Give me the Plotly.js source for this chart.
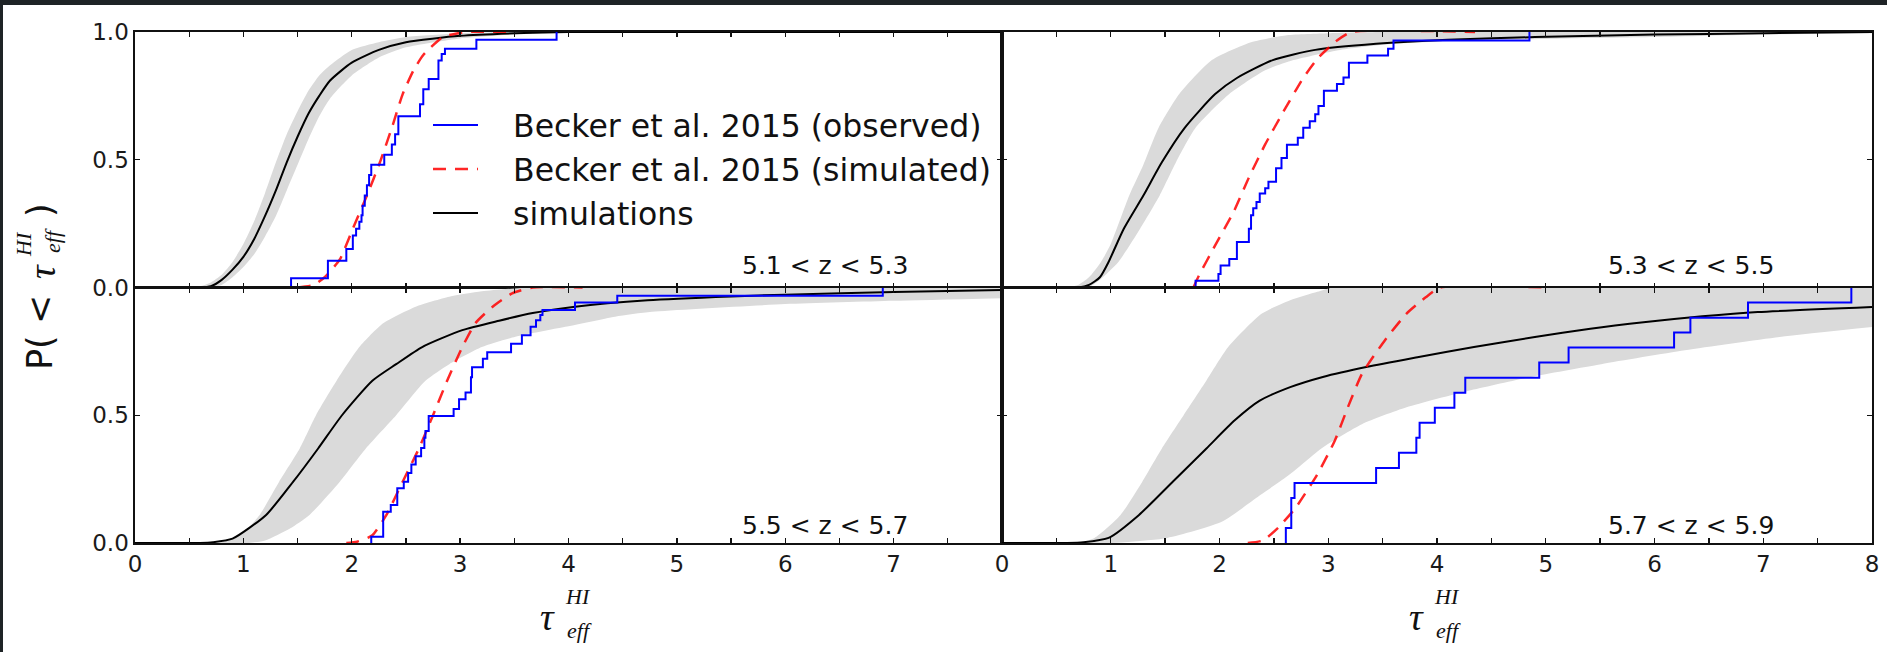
<!DOCTYPE html>
<html><head><meta charset="utf-8">
<script src="https://cdn.plot.ly/plotly-3.0.1.min.js"></script>
<style>
html,body{margin:0;padding:0;background:#1e2326;width:1887px;height:652px;overflow:hidden;}
#plot{position:absolute;left:3px;top:5px;width:1884px;height:647px;background:#fff;}
</style></head><body><div id="plot"></div>
<script>
// ---------- DATA ----------
const panelLabels = ['5.1 &lt; z &lt; 5.3', '5.3 &lt; z &lt; 5.5', '5.5 &lt; z &lt; 5.7', '5.7 &lt; z &lt; 5.9'];
const seriesNames = ['Becker et al. 2015 (observed)', 'Becker et al. 2015 (simulated)', 'simulations'];

// Panel A: 5.1 < z < 5.3
const simTauA = [0, 0.6, 0.7, 0.8, 0.9, 1.0, 1.1, 1.2, 1.3, 1.4, 1.5, 1.6, 1.7, 1.8, 2.0, 2.25, 2.5, 3.0, 3.5, 4.0, 5.0, 6, 7, 8];
const simPA   = [0, 0, 0.005, 0.03, 0.07, 0.12, 0.19, 0.28, 0.38, 0.49, 0.59, 0.68, 0.75, 0.81, 0.88, 0.93, 0.96, 0.985, 0.995, 1, 1, 1, 1, 1];
const bandHiTauA = [0.5, 0.6, 0.7, 0.8, 0.9, 1.0, 1.1, 1.2, 1.3, 1.4, 1.5, 1.6, 1.7, 1.8, 2.0, 2.25, 2.5, 3.0, 3.5, 4.0, 8];
const bandHiA    = [0, 0.005, 0.02, 0.05, 0.1, 0.17, 0.26, 0.37, 0.49, 0.6, 0.69, 0.77, 0.83, 0.87, 0.93, 0.96, 0.98, 0.995, 1, 1, 1];
const bandLoTauA = [0.7, 0.8, 0.9, 1.0, 1.1, 1.2, 1.3, 1.4, 1.5, 1.6, 1.7, 1.8, 2.0, 2.25, 2.5, 3.0, 3.5, 4.0, 5.0, 8];
const bandLoA    = [0, 0.01, 0.04, 0.08, 0.13, 0.2, 0.28, 0.38, 0.48, 0.58, 0.67, 0.74, 0.83, 0.9, 0.94, 0.975, 0.99, 0.997, 1, 1];
const bkSimTauA = [1.5, 1.65, 1.75, 1.89, 2.01, 2.14, 2.26, 2.37, 2.47, 2.57, 2.66, 2.84, 3.05, 3.5];
const bkSimPA   = [0, 0.01, 0.04, 0.11, 0.23, 0.36, 0.49, 0.625, 0.757, 0.85, 0.91, 0.98, 1.0, 1.0];
const obsTauA = [1.44, 1.78, 1.95, 2.01, 2.04, 2.07, 2.09, 2.10, 2.12, 2.14, 2.16, 2.18, 2.30, 2.37, 2.40, 2.43, 2.63, 2.66, 2.71, 2.80, 2.83, 2.86, 3.15, 3.89];
const obsPA   = [0.036, 0.105, 0.151, 0.204, 0.23, 0.257, 0.283, 0.32, 0.36, 0.40, 0.44, 0.48, 0.52, 0.56, 0.60, 0.67, 0.717, 0.776, 0.816, 0.888, 0.914, 0.934, 0.97, 1.0];

// Panel B: 5.3 < z < 5.5
const simTauB = [0, 0.7, 0.8, 0.9, 0.98, 1.12, 1.30, 1.47, 1.68, 1.96, 2.16, 2.49, 2.88, 3.44, 4.1, 4.9, 6, 7, 8];
const simPB   = [0, 0, 0.01, 0.04, 0.1, 0.23, 0.36, 0.49, 0.625, 0.757, 0.82, 0.89, 0.93, 0.954, 0.97, 0.98, 0.99, 0.995, 1.0];
const bandHiTauB = [0.6, 0.7, 0.8, 0.91, 1.0, 1.17, 1.3, 1.44, 1.63, 1.93, 2.29, 2.62, 3.0, 3.5, 8];
const bandHiB    = [0, 0.01, 0.04, 0.1, 0.17, 0.36, 0.48, 0.625, 0.757, 0.89, 0.96, 0.987, 0.995, 1, 1];
const bandLoTauB = [0.8, 0.9, 1.07, 1.27, 1.45, 1.6, 1.78, 2.09, 2.42, 2.68, 3.11, 3.6, 4.26, 5.1, 6, 7, 8];
const bandLoB    = [0, 0.03, 0.1, 0.23, 0.36, 0.49, 0.625, 0.757, 0.85, 0.89, 0.93, 0.954, 0.967, 0.974, 0.98, 0.99, 0.995];
const bkSimTauB = [1.76, 1.81, 1.96, 2.13, 2.27, 2.42, 2.59, 2.77, 2.91, 3.08, 3.21, 4.35];
const bkSimPB   = [0, 0.046, 0.165, 0.296, 0.43, 0.56, 0.69, 0.82, 0.9, 0.967, 1.0, 1.0];
const obsTauB = [1.78, 1.99, 2.01, 2.09, 2.16, 2.27, 2.29, 2.31, 2.34, 2.37, 2.42, 2.45, 2.52, 2.57, 2.62, 2.72, 2.77, 2.83, 2.88, 2.91, 2.96, 3.08, 3.14, 3.19, 3.36, 3.55, 3.60, 4.85];
const obsPB   = [0.026, 0.053, 0.086, 0.112, 0.178, 0.23, 0.283, 0.31, 0.335, 0.368, 0.388, 0.414, 0.467, 0.507, 0.559, 0.586, 0.625, 0.651, 0.678, 0.71, 0.77, 0.796, 0.822, 0.88, 0.908, 0.934, 0.967, 1.0];

// Panel C: 5.5 < z < 5.7
const simTauC = [0, 0.6, 0.72, 0.9, 1.21, 1.46, 1.69, 1.91, 2.19, 2.41, 2.65, 3.02, 3.36, 3.67, 4.06, 4.73, 5.5, 6, 7, 8];
const simPC   = [0, 0, 0.003, 0.017, 0.11, 0.24, 0.37, 0.50, 0.635, 0.70, 0.767, 0.833, 0.87, 0.9, 0.925, 0.95, 0.965, 0.972, 0.982, 0.99];
const bandHiTauC = [0.75, 0.9, 1.0, 1.15, 1.33, 1.52, 1.67, 1.86, 2.07, 2.29, 2.59, 2.9, 3.2, 3.67, 8];
const bandHiC    = [0, 0.015, 0.04, 0.11, 0.24, 0.37, 0.5, 0.635, 0.767, 0.86, 0.925, 0.964, 0.985, 1.0, 1.0];
const bandLoTauC = [1.05, 1.2, 1.43, 1.61, 1.89, 2.13, 2.41, 2.68, 2.9, 3.2, 3.51, 3.97, 4.43, 4.77, 6, 7, 8];
const bandLoC    = [0, 0.01, 0.057, 0.11, 0.24, 0.37, 0.5, 0.635, 0.70, 0.767, 0.807, 0.846, 0.886, 0.905, 0.935, 0.948, 0.958];
const bkSimTauC = [1.95, 2.05, 2.19, 2.32, 2.47, 2.62, 2.75, 2.88, 3.02, 3.14, 3.3, 3.48, 3.67, 4.13];
const bkSimPC   = [0, 0.005, 0.03, 0.11, 0.24, 0.37, 0.5, 0.635, 0.767, 0.86, 0.925, 0.977, 1.0, 1.0];
const obsTauC = [2.18, 2.29, 2.36, 2.42, 2.48, 2.52, 2.55, 2.59, 2.64, 2.67, 2.68, 2.71, 2.94, 2.99, 3.05, 3.10, 3.11, 3.21, 3.25, 3.47, 3.57, 3.65, 3.70, 3.74, 3.76, 4.06, 4.45, 6.90];
const obsPC   = [0.024, 0.122, 0.149, 0.214, 0.24, 0.274, 0.307, 0.34, 0.372, 0.412, 0.438, 0.497, 0.524, 0.563, 0.589, 0.649, 0.688, 0.721, 0.747, 0.78, 0.813, 0.846, 0.872, 0.892, 0.912, 0.941, 0.968, 1.0];

// Panel D: 5.7 < z < 5.9
const simTauD = [0, 0.6, 0.75, 0.98, 1.26, 1.57, 1.88, 2.14, 2.37, 2.65, 2.95, 3.36, 3.82, 4.34, 4.9, 5.41, 5.92, 6.44, 6.95, 8.0];
const simPD   = [0, 0, 0.003, 0.02, 0.11, 0.24, 0.37, 0.48, 0.557, 0.61, 0.65, 0.69, 0.727, 0.767, 0.806, 0.839, 0.865, 0.887, 0.904, 0.924];
const bandHiTauD = [0.7, 0.85, 1.09, 1.29, 1.47, 1.67, 1.88, 2.08, 2.39, 2.65, 2.9, 3.05, 8];
const bandHiD    = [0, 0.02, 0.11, 0.24, 0.37, 0.5, 0.636, 0.767, 0.898, 0.95, 0.983, 1.0, 1.0];
const bandLoTauD = [1.0, 1.52, 2.03, 2.34, 2.65, 2.95, 3.31, 3.72, 4.29, 4.85, 5.51, 6.28, 7.15, 8.0];
const bandLoD    = [0, 0.02, 0.085, 0.177, 0.27, 0.374, 0.465, 0.531, 0.596, 0.649, 0.70, 0.754, 0.806, 0.845];
const bkSimTauD = [2.26, 2.4, 2.54, 2.7, 2.9, 3.06, 3.18, 3.31, 3.52, 3.72, 3.9, 4.03, 5.0];
const bkSimPD   = [0, 0.01, 0.06, 0.138, 0.269, 0.40, 0.531, 0.662, 0.793, 0.898, 0.963, 1.0, 1.0];
const obsTauD = [2.61, 2.66, 2.69, 3.44, 3.65, 3.81, 3.84, 3.98, 4.16, 4.26, 4.94, 5.21, 6.18, 6.33, 6.86, 7.81];
const obsPD   = [0.059, 0.176, 0.235, 0.294, 0.353, 0.412, 0.471, 0.529, 0.588, 0.647, 0.706, 0.765, 0.824, 0.882, 0.941, 1.0];

// Tick labels
const xTickVals = [0,0.5,1,1.5,2,2.5,3,3.5,4,4.5,5,5.5,6,6.5,7,7.5,8];
const xTickTextLeft  = ['0','','1','','2','','3','','4','','5','','6','','7','',''];
const xTickTextRight = ['0','','1','','2','','3','','4','','5','','6','','7','','8'];
const yTickVals = [0, 0.5, 1];
const yTickTextTop = ['0.0','0.5','1.0'];
const yTickTextBottom = ['0.0','0.5',''];

// ---------- BUILD ----------
const panels = [
  {xa:'x',  ya:'y',  sim:[simTauA,simPA], hi:[bandHiTauA,bandHiA], lo:[bandLoTauA,bandLoA], bk:[bkSimTauA,bkSimPA], obs:[obsTauA,obsPA]},
  {xa:'x2', ya:'y2', sim:[simTauB,simPB], hi:[bandHiTauB,bandHiB], lo:[bandLoTauB,bandLoB], bk:[bkSimTauB,bkSimPB], obs:[obsTauB,obsPB]},
  {xa:'x3', ya:'y3', sim:[simTauC,simPC], hi:[bandHiTauC,bandHiC], lo:[bandLoTauC,bandLoC], bk:[bkSimTauC,bkSimPC], obs:[obsTauC,obsPC]},
  {xa:'x4', ya:'y4', sim:[simTauD,simPD], hi:[bandHiTauD,bandHiD], lo:[bandLoTauD,bandLoD], bk:[bkSimTauD,bkSimPD], obs:[obsTauD,obsPD]}
];
const BAND = 'rgb(218,218,218)';
const PAD = '\u00a0\u00a0\u00a0';
const traces = [];
panels.forEach(p => {
  traces.push({x:p.lo[0], y:p.lo[1], xaxis:p.xa, yaxis:p.ya, mode:'lines', line:{width:0, color:BAND, shape:'spline', smoothing:0.6}, showlegend:false, hoverinfo:'skip'});
  traces.push({x:p.hi[0], y:p.hi[1], xaxis:p.xa, yaxis:p.ya, mode:'lines', fill:'tonexty', fillcolor:BAND, line:{width:0, color:BAND, shape:'spline', smoothing:0.6}, showlegend:false, hoverinfo:'skip'});
});
panels.forEach((p,i) => {
  traces.push({x:p.sim[0], y:p.sim[1], xaxis:p.xa, yaxis:p.ya, mode:'lines', name:PAD+seriesNames[2], legendgroup:'sim', legendrank:3, showlegend:i===0,
    line:{color:'#000', width:2, shape:'spline', smoothing:0.6}});
});
panels.forEach((p,i) => {
  traces.push({x:p.bk[0], y:p.bk[1], xaxis:p.xa, yaxis:p.ya, mode:'lines', name:PAD+seriesNames[1], legendgroup:'bsim', legendrank:2, showlegend:i===0,
    line:{color:'rgba(255,0,0,0.85)', width:2.5, dash:'13px,9px', shape:'spline', smoothing:0.5}});
});
panels.forEach((p,i) => {
  const xs = [p.obs[0][0]].concat(p.obs[0]);
  const ys = [0].concat(p.obs[1]);
  traces.push({x:xs, y:ys, xaxis:p.xa, yaxis:p.ya, mode:'lines', name:PAD+seriesNames[0], legendgroup:'obs', legendrank:1, showlegend:i===0,
    line:{color:'#0000ff', width:2, shape:'hv'}});
});

const W = 1884, H = 647;
const L = 132, R = 15, T = 27, B = 109;
const split = 867/1737;
const tickFont = {family:'DejaVu Sans', size:23, color:'#1a1a1a'};
function xax(dom, anchor, showLabels, text) {
  return {domain:dom, anchor:anchor, range:[0,8], tickmode:'array', tickvals:xTickVals, ticktext:text,
    showticklabels:showLabels, ticks:'inside', ticklen:5, tickwidth:1.3, tickcolor:'#111',
    showline:true, linecolor:'#111', linewidth:1.6, mirror:'ticks', showgrid:false, zeroline:false,
    tickfont:tickFont, fixedrange:true};
}
function yax(dom, anchor, showLabels, text) {
  return {domain:dom, anchor:anchor, range:[0,1], tickmode:'array', tickvals:yTickVals, ticktext:text,
    showticklabels:showLabels, ticks:'inside', ticklen:5, tickwidth:1.3, tickcolor:'#111',
    showline:true, linecolor:'#111', linewidth:1.6, mirror:'ticks', showgrid:false, zeroline:false,
    tickfont:tickFont, fixedrange:true};
}
// pixel (full figure) -> paper helpers
function pxX(X){ return (X - 135)/1737; }
function pxY(Y){ return (543 - Y)/511; }

const serif = 'Liberation Serif';
const annotations = [];
// panel labels
const labPos = [[0.894,0.085,'x domain','y domain'],[0.89,0.085,'x2 domain','y2 domain'],[0.894,0.068,'x3 domain','y3 domain'],[0.89,0.068,'x4 domain','y4 domain']];
labPos.forEach((lp,i)=>{
  annotations.push({text:panelLabels[i], xref:lp[2], yref:lp[3], x:lp[0], y:lp[1], xanchor:'right', yanchor:'middle', showarrow:false,
    font:{family:'DejaVu Sans', size:25, color:'#111'}});
});
// x titles (tau_eff^HI), one under each column
[568, 1437].forEach(cx => {
  annotations.push({text:'<i>τ</i>', xref:'paper', yref:'paper', x:pxX(cx-21), y:pxY(617), xanchor:'center', yanchor:'middle', showarrow:false, font:{family:serif, size:38, color:'#111'}});
  annotations.push({text:'<i>HI</i>', xref:'paper', yref:'paper', x:pxX(cx+10), y:pxY(596), xanchor:'center', yanchor:'middle', showarrow:false, font:{family:serif, size:22, color:'#111'}});
  annotations.push({text:'<i>eff</i>', xref:'paper', yref:'paper', x:pxX(cx+11), y:pxY(630), xanchor:'center', yanchor:'middle', showarrow:false, font:{family:serif, size:22, color:'#111'}});
});
// y title P( < tau_eff^HI )
annotations.push({text:'P( &lt;', xref:'paper', yref:'paper', x:pxX(40), y:pxY(333), xanchor:'center', yanchor:'middle', textangle:-90, showarrow:false, font:{family:'DejaVu Sans', size:35, color:'#111'}});
annotations.push({text:'<i>τ</i>', xref:'paper', yref:'paper', x:pxX(42), y:pxY(272), xanchor:'center', yanchor:'middle', textangle:-90, showarrow:false, font:{family:serif, size:38, color:'#111'}});
annotations.push({text:'<i>HI</i>', xref:'paper', yref:'paper', x:pxX(23), y:pxY(244), xanchor:'center', yanchor:'middle', textangle:-90, showarrow:false, font:{family:serif, size:22, color:'#111'}});
annotations.push({text:'<i>eff</i>', xref:'paper', yref:'paper', x:pxX(52), y:pxY(241), xanchor:'center', yanchor:'middle', textangle:-90, showarrow:false, font:{family:serif, size:22, color:'#111'}});
annotations.push({text:')', xref:'paper', yref:'paper', x:pxX(40), y:pxY(210), xanchor:'center', yanchor:'middle', textangle:-90, showarrow:false, font:{family:'DejaVu Sans', size:35, color:'#111'}});

const layout = {
  width:W, height:H, margin:{l:L, r:R, t:T, b:B, pad:0},
  paper_bgcolor:'#ffffff', plot_bgcolor:'#ffffff',
  xaxis: xax([0,split],'y',false,xTickTextLeft),
  yaxis: yax([0.5,1],'x',true,yTickTextTop),
  xaxis2: xax([split,1],'y2',false,xTickTextRight),
  yaxis2: yax([0.5,1],'x2',false,yTickTextTop),
  xaxis3: xax([0,split],'y3',true,xTickTextLeft),
  yaxis3: yax([0,0.5],'x3',true,yTickTextBottom),
  xaxis4: xax([split,1],'y4',true,xTickTextRight),
  yaxis4: yax([0,0.5],'x4',false,yTickTextBottom),
  showlegend:true,
  legend:{x:pxX(428), y:pxY(98), xanchor:'left', yanchor:'top', bgcolor:'rgba(0,0,0,0)', borderwidth:0,
    font:{family:'DejaVu Sans', size:31.5, color:'#111'}, traceorder:'normal', tracegroupgap:5, itemwidth:45},
  annotations:annotations
};
Plotly.newPlot('plot', traces, layout, {staticPlot:true, displayModeBar:false});
</script></body></html>
